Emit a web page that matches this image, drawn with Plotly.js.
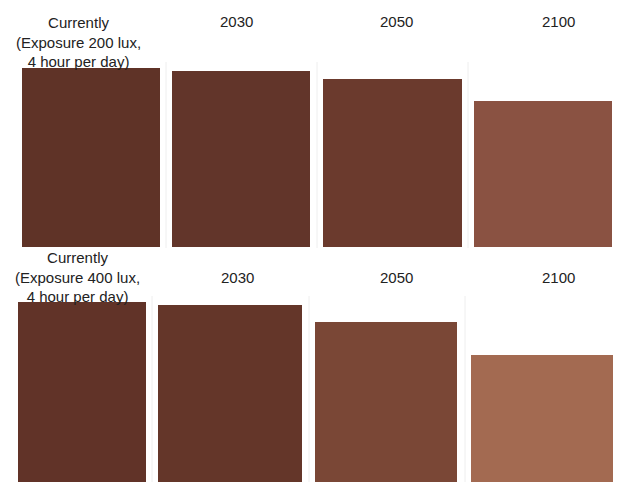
<!DOCTYPE html>
<html><head><meta charset="utf-8">
<script src="https://cdn.plot.ly/plotly-3.0.1.min.js"></script>
<style>html,body{margin:0;padding:0;background:#fff}#chart{width:622px;height:482px}</style>
</head><body><div id="chart"></div>
<script>
// Data
const periods = ["Currently", "2030", "2050", "2100"];
const rowLabels200 = ["Currently<br>(Exposure 200 lux,<br>4 hour per day)", "2030", "2050", "2100"];
const rowLabels400 = ["Currently<br>(Exposure 400 lux,<br>4 hour per day)", "2030", "2050", "2100"];
const values200 = [100, 98.3, 93.9, 81.6];
const values400 = [100, 98.3, 88.9, 70.6];
const colors200 = ["#5f3327", "#62352a", "#6b3a2d", "#8a5242"];
const colors400 = ["#613328", "#643629", "#7a4736", "#a36a51"];

const W = 622, H = 482;
const px = v => v / W, py = v => 1 - v / H;
// panel layout (pixels)
const topX = [[22,160],[172,310],[323,462],[474,612]];
const botX = [[18,146],[158,302],[315,457],[471,613]];
const topLabelPos = [[78,42],[236,22],[397,22],[558,22]];
const botLabelPos = [[77,277],[237,277],[397,277],[558,277]];

const data = [], layout = {
  width: W, height: H, margin:{l:0,r:0,t:0,b:0},
  paper_bgcolor:"#fff", plot_bgcolor:"rgba(0,0,0,0)",
  showlegend:false, bargap:0, annotations:[], shapes:[],
  font:{family:"Liberation Sans, Arial, sans-serif", size:15, color:"#222"}
};
const yTop = {domain:[py(247), py(68)], range:[0,100]};
const yBot = {domain:[0, py(302)], range:[0,100]};

function addRow(vals, cols, xs, labels, lpos, yd, rowIdx) {
  vals.forEach((v, i) => {
    const n = rowIdx*4 + i + 1;
    const xa = n===1 ? "x" : "x"+n, ya = n===1 ? "y" : "y"+n;
    data.push({type:"bar", x:[periods[i]], y:[v], xaxis:xa, yaxis:ya,
      marker:{color:cols[i], line:{width:0}}, width:[1], hoverinfo:"skip"});
    const xk = n===1 ? "xaxis" : "xaxis"+n, yk = n===1 ? "yaxis" : "yaxis"+n;
    layout[xk] = {type:"category", domain:[px(xs[i][0]), px(xs[i][1])], range:[-0.5,0.5], visible:false, anchor:ya, fixedrange:true};
    layout[yk] = {domain:yd.domain, range:yd.range, visible:false, anchor:xa, fixedrange:true};
    layout.annotations.push({text:labels[i], x:px(lpos[i][0]), y:py(lpos[i][1]), xref:"paper", yref:"paper",
      xanchor:"center", yanchor:"middle", showarrow:false, align:"center",
      font:{size:15, color:"#222", family:"Liberation Sans, Arial, sans-serif"}});
  });
}
addRow(values200, colors200, topX, rowLabels200, topLabelPos, yTop, 0);
addRow(values400, colors400, botX, rowLabels400, botLabelPos, yBot, 1);

// faint panel separators
[[166,62,248],[317,62,248],[468,62,248],[152,296,482],[309,296,482],[465,296,482]].forEach(s=>{
  layout.shapes.push({type:"line", xref:"paper", yref:"paper", x0:px(s[0]), x1:px(s[0]), y0:py(s[1]), y1:py(s[2]),
    line:{color:"#eeeeee", width:1}});
});

Plotly.newPlot("chart", data, layout, {staticPlot:true, displayModeBar:false});
</script></body></html>
